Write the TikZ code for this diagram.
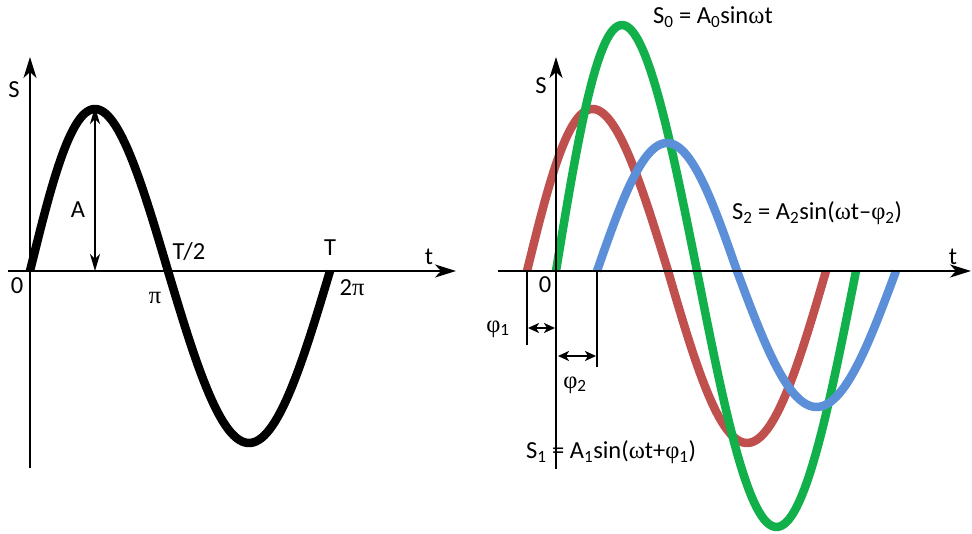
\documentclass[tikz,border=0pt]{standalone}
\usepackage{fontspec}
\setmainfont{Carlito}
\newfontfamily\gk{Liberation Serif}
\usetikzlibrary{arrows.meta}
\definecolor{cgreen}{HTML}{12B04A}
\definecolor{cred}{HTML}{C0504D}
\definecolor{cblue}{HTML}{5B8FD8}
\newcommand{\sbs}[1]{\textsubscript{#1}}
\begin{document}
\begin{tikzpicture}[x=1pt,y=-1pt,
  axis/.style={line width=2pt,-{Stealth[length=21pt,width=13pt,inset=6pt]}},
  wave/.style={line width=8.5pt},
  mark line/.style={line width=2pt},
  dim arrow/.style={line width=1.8pt,{Stealth[length=11pt,width=10pt,inset=3pt]}-{Stealth[length=11pt,width=10pt,inset=3pt]}},
  amp arrow/.style={line width=1.6pt,{Stealth[length=17pt,width=10pt,inset=5pt]}-{Stealth[length=17pt,width=10pt,inset=5pt]}},
  lbl/.style={font=\fontsize{24.5}{27}\selectfont,inner sep=0pt}]
\useasboundingbox (0,0) rectangle (972,534);
% ---------- left diagram ----------
\coordinate (Lyb) at (30,468);
\coordinate (Lyt) at (30,57);
\coordinate (Lxl) at (8,271);
\coordinate (Lxr) at (456,271);
\draw[axis] (Lyb) -- (Lyt);
\draw[axis] (Lxl) -- (Lxr);
\draw[wave,black] plot[variable=\t,domain=0:180,samples=60] ({30+\t/180*138-4*sin(\t)},{271-162*sin(\t)})
  -- plot[variable=\t,domain=0:180,samples=60] ({168+\t/180*162},{271+172*sin(\t)});
\coordinate (Atop) at (95,107);
\coordinate (Abot) at (95,271);
\draw[amp arrow] (Atop) -- (Abot);
\node[lbl] (LS) at (14,90) {S};
\node[lbl] (LA) at (78,210) {A};
\node[lbl] (L0) at (17,286) {0};
\node[lbl] (Lpi) at (155,298) {\gk π};
\node[lbl] (LT2) at (189,252) {T/2};
\node[lbl] (LT) at (330,248) {T};
\node[lbl] (L2pi) at (352,288) {2{\gk π}};
\node[lbl] (Lt) at (429,257) {t};
% ---------- right diagram ----------
\coordinate (Ryb) at (556,469);
\coordinate (Ryt) at (556,57);
\coordinate (Rxl) at (498,271);
\coordinate (Rxr) at (971,271);
% red
\draw[wave,cred] plot[variable=\t,domain=0:180,samples=60] ({527+\t/180*141-5*sin(\t)},{271-162*sin(\t)})
  -- plot[variable=\t,domain=0:180,samples=60] ({668+\t/180*158},{271+172*sin(\t)});
% green
\draw[wave,cgreen] plot[variable=\t,domain=0:180,samples=60] ({556+\t/180*141-4.5*sin(\t)},{271-246*sin(\t)})
  -- plot[variable=\t,domain=0:180,samples=60] ({697+\t/180*159},{271+256*sin(\t)});
% blue
\draw[wave,cblue] plot[variable=\t,domain=0:180,samples=60] ({597+\t/180*140},{271-128*sin(\t)})
  -- plot[variable=\t,domain=0:180,samples=60] ({737+\t/180*159},{271+136*sin(\t)});
\draw[axis] (Ryb) -- (Ryt);
\draw[axis] (Rxl) -- (Rxr);
% phase markers
\coordinate (P1t) at (527,271);
\coordinate (P1b) at (527,345);
\coordinate (P2t) at (597,271);
\coordinate (P2b) at (597,367);
\draw[mark line] (P1t) -- (P1b);
\draw[mark line] (P2t) -- (P2b);
\coordinate (D1a) at (528,328);
\coordinate (D1b) at (555,328);
\coordinate (D2a) at (558,356);
\coordinate (D2b) at (596,356);
\draw[dim arrow] (D1a) -- (D1b);
\draw[dim arrow] (D2a) -- (D2b);
\node[lbl] (RS) at (541,86) {S};
\node[lbl] (R0) at (545,285) {0};
\node[lbl] (Rt) at (953,257) {t};
\node[lbl] (Rp1) at (498,329) {{\gk φ}\sbs{1}};
\node[lbl] (Rp2) at (575,385) {{\gk φ}\sbs{2}};
\node[lbl,anchor=west] (S0) at (653,17) {S\sbs{0} = A\sbs{0}sin{\gk ω}t};
\node[lbl,anchor=west] (S2) at (732,213) {S\sbs{2} = A\sbs{2}sin({\gk ω}t–{\gk φ}\sbs{2})};
\node[lbl,anchor=west] (S1) at (526,452) {S\sbs{1} = A\sbs{1}sin({\gk ω}t+{\gk φ}\sbs{1})};
\end{tikzpicture}
\end{document}
